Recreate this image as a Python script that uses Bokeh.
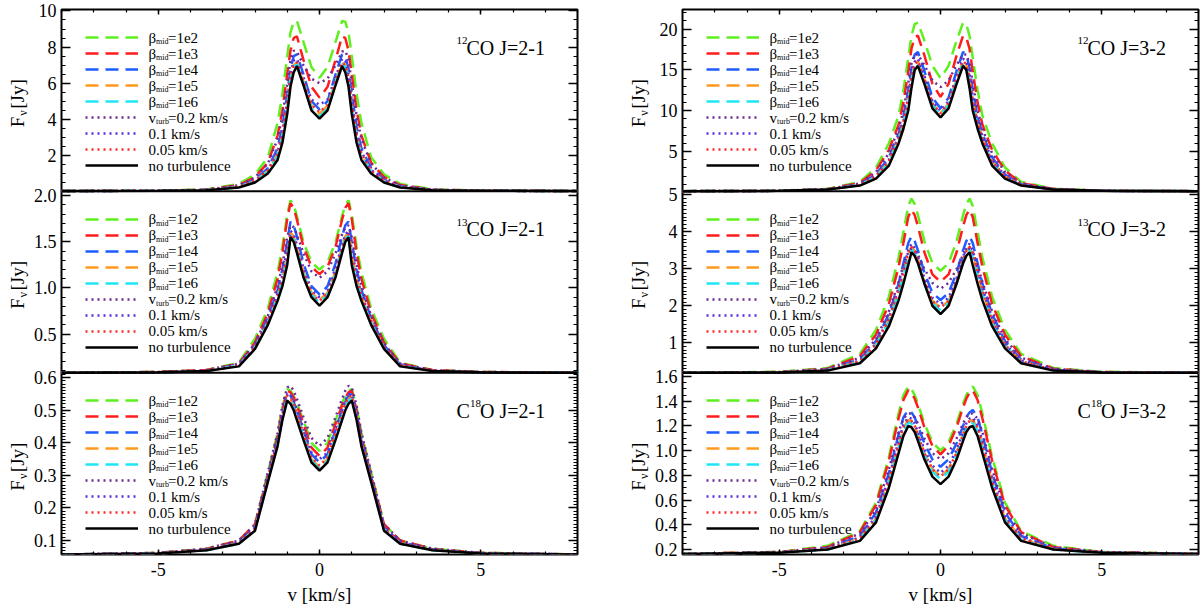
from math import ceil, floor

from bokeh.core.properties import value
from bokeh.embed import file_html
from bokeh.layouts import row
from bokeh.models import (FixedTicker, Label, Legend, LegendItem, LinearAxis,
                          Range1d, SingleIntervalTicker, Span)
from bokeh.plotting import figure
from bokeh.resources import INLINE

FONT = "'Liberation Serif', 'Times New Roman', Times, serif"

# velocity grid (km/s) shared by all profiles
V = [-8, -5, -3.5, -2.5, -2, -1.6, -1.3, -1.15, -1.0, -0.9, -0.8, -0.7, -0.5, -0.25, 0,
     0.25, 0.5, 0.7, 0.8, 0.9, 1.0, 1.15, 1.3, 1.6, 2, 2.5, 3.5, 5, 8]

# ---- 12CO J=2-1 (Jy)
co12_21_b1e2 = [0.03, 0.05, 0.12, 0.42, 0.95, 1.9, 3.8, 5.4, 7.5, 8.8, 9.4, 9.45, 8.3, 6.9, 6.3, 6.9, 8.3, 9.45, 9.4, 8.8, 7.5, 5.4, 3.8, 1.9, 0.95, 0.42, 0.12, 0.05, 0.03]
co12_21_b1e3 = [0.03, 0.05, 0.1, 0.36, 0.8, 1.6, 3.1, 4.5, 6.5, 7.8, 8.5, 8.6, 7.3, 5.8, 5.2, 5.8, 7.3, 8.6, 8.5, 7.8, 6.5, 4.5, 3.1, 1.6, 0.8, 0.36, 0.1, 0.05, 0.03]
co12_21_b1e4 = [0.03, 0.04, 0.09, 0.3, 0.65, 1.3, 2.4, 3.6, 5.4, 6.8, 7.5, 7.6, 6.5, 5.0, 4.55, 5.0, 6.5, 7.6, 7.5, 6.8, 5.4, 3.6, 2.4, 1.3, 0.65, 0.3, 0.09, 0.04, 0.03]
co12_21_b1e5 = [0.03, 0.04, 0.08, 0.26, 0.58, 1.15, 2.05, 3.1, 4.8, 6.3, 7.0, 7.15, 6.1, 4.75, 4.3, 4.75, 6.1, 7.15, 7.0, 6.3, 4.8, 3.1, 2.05, 1.15, 0.58, 0.26, 0.08, 0.04, 0.03]
co12_21_b1e6 = [0.03, 0.04, 0.08, 0.25, 0.55, 1.1, 1.95, 2.95, 4.6, 6.1, 6.9, 7.05, 6.0, 4.6, 4.15, 4.6, 6.0, 7.05, 6.9, 6.1, 4.6, 2.95, 1.95, 1.1, 0.55, 0.25, 0.08, 0.04, 0.03]
co12_21_vt02 = [0.03, 0.05, 0.1, 0.35, 0.78, 1.55, 2.9, 4.2, 6.0, 7.3, 7.8, 7.75, 7.0, 6.25, 6.0, 6.25, 7.0, 7.75, 7.8, 7.3, 6.0, 4.2, 2.9, 1.55, 0.78, 0.35, 0.1, 0.05, 0.03]
co12_21_vt01 = [0.03, 0.04, 0.09, 0.28, 0.62, 1.2, 2.2, 3.3, 5.0, 6.5, 7.25, 7.35, 6.35, 5.1, 4.8, 5.1, 6.35, 7.35, 7.25, 6.5, 5.0, 3.3, 2.2, 1.2, 0.62, 0.28, 0.09, 0.04, 0.03]
co12_21_vt005 = [0.03, 0.04, 0.08, 0.27, 0.6, 1.15, 2.1, 3.15, 4.85, 6.3, 7.0, 7.15, 6.15, 4.8, 4.4, 4.8, 6.15, 7.15, 7.0, 6.3, 4.85, 3.15, 2.1, 1.15, 0.6, 0.27, 0.08, 0.04, 0.03]
co12_21_none = [0.03, 0.04, 0.07, 0.22, 0.5, 1.0, 1.75, 2.7, 4.3, 5.8, 6.6, 6.95, 5.9, 4.5, 4.04, 4.5, 5.9, 6.95, 6.6, 5.8, 4.3, 2.7, 1.75, 1.0, 0.5, 0.22, 0.07, 0.04, 0.03]

# ---- 13CO J=2-1
co13_21_b1e2 = [0.08, 0.09, 0.11, 0.19, 0.45, 0.78, 1.17, 1.45, 1.8, 1.95, 1.9, 1.78, 1.5, 1.28, 1.2, 1.28, 1.5, 1.78, 1.9, 1.95, 1.8, 1.45, 1.17, 0.78, 0.45, 0.19, 0.11, 0.09, 0.08]
co13_21_b1e3 = [0.08, 0.09, 0.11, 0.18, 0.41, 0.73, 1.1, 1.38, 1.75, 1.92, 1.87, 1.74, 1.45, 1.23, 1.15, 1.23, 1.45, 1.74, 1.87, 1.92, 1.75, 1.38, 1.1, 0.73, 0.41, 0.18, 0.11, 0.09, 0.08]
co13_21_b1e4 = [0.08, 0.085, 0.1, 0.17, 0.38, 0.67, 0.98, 1.2, 1.5, 1.72, 1.68, 1.56, 1.27, 1.02, 0.93, 1.02, 1.27, 1.56, 1.68, 1.72, 1.5, 1.2, 0.98, 0.67, 0.38, 0.17, 0.1, 0.085, 0.08]
co13_21_b1e5 = [0.08, 0.085, 0.1, 0.16, 0.36, 0.63, 0.91, 1.1, 1.36, 1.6, 1.56, 1.44, 1.18, 0.95, 0.87, 0.95, 1.18, 1.44, 1.56, 1.6, 1.36, 1.1, 0.91, 0.63, 0.36, 0.16, 0.1, 0.085, 0.08]
co13_21_b1e6 = [0.08, 0.085, 0.1, 0.16, 0.35, 0.62, 0.89, 1.06, 1.3, 1.57, 1.53, 1.41, 1.15, 0.93, 0.84, 0.93, 1.15, 1.41, 1.53, 1.57, 1.3, 1.06, 0.89, 0.62, 0.35, 0.16, 0.1, 0.085, 0.08]
co13_21_vt02 = [0.08, 0.09, 0.11, 0.18, 0.4, 0.7, 1.02, 1.25, 1.55, 1.68, 1.66, 1.58, 1.38, 1.18, 1.11, 1.18, 1.38, 1.58, 1.66, 1.68, 1.55, 1.25, 1.02, 0.7, 0.4, 0.18, 0.11, 0.09, 0.08]
co13_21_vt01 = [0.08, 0.085, 0.1, 0.17, 0.37, 0.65, 0.94, 1.14, 1.42, 1.62, 1.58, 1.47, 1.22, 0.98, 0.9, 0.98, 1.22, 1.47, 1.58, 1.62, 1.42, 1.14, 0.94, 0.65, 0.37, 0.17, 0.1, 0.085, 0.08]
co13_21_vt005 = [0.08, 0.085, 0.1, 0.16, 0.36, 0.63, 0.9, 1.08, 1.34, 1.58, 1.54, 1.42, 1.17, 0.94, 0.86, 0.94, 1.17, 1.42, 1.54, 1.58, 1.34, 1.08, 0.9, 0.63, 0.36, 0.16, 0.1, 0.085, 0.08]
co13_21_none = [0.08, 0.085, 0.1, 0.15, 0.34, 0.6, 0.86, 1.02, 1.25, 1.55, 1.5, 1.38, 1.12, 0.9, 0.81, 0.9, 1.12, 1.38, 1.5, 1.55, 1.25, 1.02, 0.86, 0.6, 0.34, 0.15, 0.1, 0.085, 0.08]

# ---- C18O J=2-1
c18o_21_b1e2 = [0.057, 0.062, 0.075, 0.1, 0.15, 0.31, 0.43, 0.51, 0.565, 0.56, 0.545, 0.52, 0.47, 0.4, 0.375, 0.4, 0.47, 0.52, 0.545, 0.56, 0.565, 0.51, 0.43, 0.31, 0.15, 0.1, 0.075, 0.062, 0.057]
c18o_21_b1e3 = [0.057, 0.062, 0.074, 0.1, 0.15, 0.3, 0.42, 0.5, 0.56, 0.555, 0.54, 0.515, 0.46, 0.385, 0.36, 0.385, 0.46, 0.515, 0.54, 0.555, 0.56, 0.5, 0.42, 0.3, 0.15, 0.1, 0.074, 0.062, 0.057]
c18o_21_b1e4 = [0.057, 0.061, 0.072, 0.095, 0.14, 0.295, 0.41, 0.49, 0.55, 0.545, 0.525, 0.5, 0.44, 0.365, 0.34, 0.365, 0.44, 0.5, 0.525, 0.545, 0.55, 0.49, 0.41, 0.295, 0.14, 0.095, 0.072, 0.061, 0.057]
c18o_21_b1e5 = [0.057, 0.06, 0.071, 0.092, 0.135, 0.29, 0.4, 0.48, 0.54, 0.535, 0.515, 0.485, 0.425, 0.35, 0.325, 0.35, 0.425, 0.485, 0.515, 0.535, 0.54, 0.48, 0.4, 0.29, 0.135, 0.092, 0.071, 0.06, 0.057]
c18o_21_b1e6 = [0.057, 0.06, 0.07, 0.09, 0.133, 0.285, 0.395, 0.475, 0.535, 0.53, 0.51, 0.48, 0.42, 0.345, 0.32, 0.345, 0.42, 0.48, 0.51, 0.53, 0.535, 0.475, 0.395, 0.285, 0.133, 0.09, 0.07, 0.06, 0.057]
c18o_21_vt02 = [0.057, 0.062, 0.075, 0.1, 0.15, 0.31, 0.43, 0.515, 0.57, 0.575, 0.56, 0.535, 0.48, 0.415, 0.39, 0.415, 0.48, 0.535, 0.56, 0.575, 0.57, 0.515, 0.43, 0.31, 0.15, 0.1, 0.075, 0.062, 0.057]
c18o_21_vt01 = [0.057, 0.061, 0.072, 0.095, 0.14, 0.295, 0.41, 0.49, 0.55, 0.55, 0.53, 0.5, 0.445, 0.37, 0.35, 0.37, 0.445, 0.5, 0.53, 0.55, 0.55, 0.49, 0.41, 0.295, 0.14, 0.095, 0.072, 0.061, 0.057]
c18o_21_vt005 = [0.057, 0.06, 0.071, 0.092, 0.136, 0.29, 0.4, 0.48, 0.545, 0.54, 0.52, 0.49, 0.43, 0.355, 0.33, 0.355, 0.43, 0.49, 0.52, 0.54, 0.545, 0.48, 0.4, 0.29, 0.136, 0.092, 0.071, 0.06, 0.057]
c18o_21_none = [0.057, 0.06, 0.07, 0.09, 0.13, 0.28, 0.39, 0.47, 0.53, 0.52, 0.5, 0.47, 0.41, 0.34, 0.315, 0.34, 0.41, 0.47, 0.5, 0.52, 0.53, 0.47, 0.39, 0.28, 0.13, 0.09, 0.07, 0.06, 0.057]

# ---- 12CO J=3-2
co12_32_b1e2 = [0.16, 0.22, 0.45, 1.3, 3.05, 6.0, 9.4, 12.5, 16.5, 19.2, 20.6, 20.8, 18.6, 15.5, 14.0, 15.5, 18.6, 20.8, 20.6, 19.2, 16.5, 12.5, 9.4, 6.0, 3.05, 1.3, 0.45, 0.22, 0.16]
co12_32_b1e3 = [0.16, 0.21, 0.42, 1.15, 2.7, 5.2, 8.3, 11.0, 14.8, 17.6, 19.0, 19.2, 16.8, 13.3, 11.7, 13.3, 16.8, 19.2, 19.0, 17.6, 14.8, 11.0, 8.3, 5.2, 2.7, 1.15, 0.42, 0.21, 0.16]
co12_32_b1e4 = [0.16, 0.2, 0.38, 1.0, 2.2, 4.3, 7.2, 9.3, 12.5, 15.3, 16.9, 17.2, 14.9, 11.6, 10.3, 11.6, 14.9, 17.2, 16.9, 15.3, 12.5, 9.3, 7.2, 4.3, 2.2, 1.0, 0.38, 0.2, 0.16]
co12_32_b1e5 = [0.16, 0.2, 0.36, 0.92, 1.95, 3.8, 6.6, 8.5, 11.2, 14.0, 15.7, 16.1, 13.9, 10.9, 9.7, 10.9, 13.9, 16.1, 15.7, 14.0, 11.2, 8.5, 6.6, 3.8, 1.95, 0.92, 0.36, 0.2, 0.16]
co12_32_b1e6 = [0.16, 0.2, 0.36, 0.9, 1.85, 3.6, 6.4, 8.2, 10.8, 13.6, 15.4, 15.8, 13.7, 10.7, 9.5, 10.7, 13.7, 15.8, 15.4, 13.6, 10.8, 8.2, 6.4, 3.6, 1.85, 0.9, 0.36, 0.2, 0.16]
co12_32_vt02 = [0.16, 0.21, 0.42, 1.1, 2.5, 4.8, 7.8, 10.0, 13.4, 15.8, 16.9, 16.9, 15.6, 13.7, 12.9, 13.7, 15.6, 16.9, 16.9, 15.8, 13.4, 10.0, 7.8, 4.8, 2.5, 1.1, 0.42, 0.21, 0.16]
co12_32_vt01 = [0.16, 0.2, 0.38, 0.95, 2.05, 4.0, 6.9, 8.8, 11.7, 14.5, 16.0, 16.4, 14.3, 11.2, 10.0, 11.2, 14.3, 16.4, 16.0, 14.5, 11.7, 8.8, 6.9, 4.0, 2.05, 0.95, 0.38, 0.2, 0.16]
co12_32_vt005 = [0.16, 0.2, 0.37, 0.93, 1.95, 3.8, 6.6, 8.5, 11.3, 14.1, 15.7, 16.1, 13.9, 10.9, 9.7, 10.9, 13.9, 16.1, 15.7, 14.1, 11.3, 8.5, 6.6, 3.8, 1.95, 0.93, 0.37, 0.2, 0.16]
co12_32_none = [0.16, 0.2, 0.35, 0.85, 1.7, 3.3, 6.0, 7.8, 10.0, 12.8, 15.0, 15.5, 13.3, 10.3, 9.2, 10.3, 13.3, 15.5, 15.0, 12.8, 10.0, 7.8, 6.0, 3.3, 1.7, 0.85, 0.35, 0.2, 0.16]

# ---- 13CO J=3-2
co13_32_b1e2 = [0.19, 0.22, 0.32, 0.7, 1.35, 2.25, 3.3, 4.0, 4.7, 4.9, 4.75, 4.45, 3.75, 3.15, 2.95, 3.15, 3.75, 4.45, 4.75, 4.9, 4.7, 4.0, 3.3, 2.25, 1.35, 0.7, 0.32, 0.22, 0.19]
co13_32_b1e3 = [0.19, 0.21, 0.3, 0.64, 1.22, 2.05, 3.05, 3.7, 4.4, 4.6, 4.45, 4.15, 3.45, 2.85, 2.65, 2.85, 3.45, 4.15, 4.45, 4.6, 4.4, 3.7, 3.05, 2.05, 1.22, 0.64, 0.3, 0.21, 0.19]
co13_32_b1e4 = [0.19, 0.2, 0.28, 0.55, 1.05, 1.78, 2.6, 3.15, 3.7, 3.88, 3.75, 3.5, 2.9, 2.35, 2.16, 2.35, 2.9, 3.5, 3.75, 3.88, 3.7, 3.15, 2.6, 1.78, 1.05, 0.55, 0.28, 0.2, 0.19]
co13_32_b1e5 = [0.19, 0.2, 0.27, 0.5, 0.95, 1.62, 2.4, 2.9, 3.4, 3.6, 3.48, 3.25, 2.65, 2.13, 1.95, 2.13, 2.65, 3.25, 3.48, 3.6, 3.4, 2.9, 2.4, 1.62, 0.95, 0.5, 0.27, 0.2, 0.19]
co13_32_b1e6 = [0.19, 0.2, 0.26, 0.48, 0.92, 1.56, 2.32, 2.8, 3.3, 3.52, 3.42, 3.2, 2.6, 2.07, 1.88, 2.07, 2.6, 3.2, 3.42, 3.52, 3.3, 2.8, 2.32, 1.56, 0.92, 0.48, 0.26, 0.2, 0.19]
co13_32_vt02 = [0.19, 0.21, 0.3, 0.6, 1.1, 1.85, 2.65, 3.1, 3.45, 3.55, 3.5, 3.38, 3.0, 2.62, 2.46, 2.62, 3.0, 3.38, 3.5, 3.55, 3.45, 3.1, 2.65, 1.85, 1.1, 0.6, 0.3, 0.21, 0.19]
co13_32_vt01 = [0.19, 0.2, 0.27, 0.52, 0.98, 1.68, 2.48, 3.0, 3.5, 3.68, 3.56, 3.33, 2.75, 2.22, 2.05, 2.22, 2.75, 3.33, 3.56, 3.68, 3.5, 3.0, 2.48, 1.68, 0.98, 0.52, 0.27, 0.2, 0.19]
co13_32_vt005 = [0.19, 0.2, 0.27, 0.5, 0.95, 1.63, 2.42, 2.92, 3.42, 3.6, 3.48, 3.25, 2.66, 2.13, 1.95, 2.13, 2.66, 3.25, 3.48, 3.6, 3.42, 2.92, 2.42, 1.63, 0.95, 0.5, 0.27, 0.2, 0.19]
co13_32_none = [0.19, 0.2, 0.25, 0.45, 0.85, 1.45, 2.15, 2.6, 3.1, 3.45, 3.35, 3.15, 2.6, 2.0, 1.78, 2.0, 2.6, 3.15, 3.35, 3.45, 3.1, 2.6, 2.15, 1.45, 0.85, 0.45, 0.25, 0.2, 0.19]

# ---- C18O J=3-2
c18o_32_b1e2 = [0.165, 0.18, 0.23, 0.35, 0.58, 0.95, 1.3, 1.45, 1.52, 1.5, 1.45, 1.38, 1.22, 1.07, 1.0, 1.07, 1.22, 1.38, 1.45, 1.5, 1.52, 1.45, 1.3, 0.95, 0.58, 0.35, 0.23, 0.18, 0.165]
c18o_32_b1e3 = [0.165, 0.18, 0.22, 0.34, 0.56, 0.92, 1.26, 1.41, 1.49, 1.47, 1.42, 1.35, 1.19, 1.04, 0.97, 1.04, 1.19, 1.35, 1.42, 1.47, 1.49, 1.41, 1.26, 0.92, 0.56, 0.34, 0.22, 0.18, 0.165]
c18o_32_b1e4 = [0.165, 0.175, 0.21, 0.31, 0.5, 0.82, 1.13, 1.27, 1.33, 1.31, 1.27, 1.2, 1.06, 0.93, 0.87, 0.93, 1.06, 1.2, 1.27, 1.31, 1.33, 1.27, 1.13, 0.82, 0.5, 0.31, 0.21, 0.175, 0.165]
c18o_32_b1e5 = [0.165, 0.175, 0.205, 0.29, 0.45, 0.75, 1.04, 1.18, 1.25, 1.24, 1.2, 1.13, 0.98, 0.85, 0.79, 0.85, 0.98, 1.13, 1.2, 1.24, 1.25, 1.18, 1.04, 0.75, 0.45, 0.29, 0.205, 0.175, 0.165]
c18o_32_b1e6 = [0.165, 0.175, 0.2, 0.28, 0.44, 0.73, 1.02, 1.16, 1.23, 1.22, 1.18, 1.11, 0.96, 0.83, 0.77, 0.83, 0.96, 1.11, 1.18, 1.22, 1.23, 1.16, 1.02, 0.73, 0.44, 0.28, 0.2, 0.175, 0.165]
c18o_32_vt02 = [0.165, 0.18, 0.22, 0.33, 0.52, 0.85, 1.15, 1.26, 1.3, 1.3, 1.27, 1.22, 1.1, 0.98, 0.93, 0.98, 1.1, 1.22, 1.27, 1.3, 1.3, 1.26, 1.15, 0.85, 0.52, 0.33, 0.22, 0.18, 0.165]
c18o_32_vt01 = [0.165, 0.175, 0.205, 0.3, 0.47, 0.78, 1.08, 1.21, 1.27, 1.26, 1.22, 1.15, 1.01, 0.88, 0.82, 0.88, 1.01, 1.15, 1.22, 1.26, 1.27, 1.21, 1.08, 0.78, 0.47, 0.3, 0.205, 0.175, 0.165]
c18o_32_vt005 = [0.165, 0.175, 0.205, 0.29, 0.45, 0.75, 1.05, 1.19, 1.25, 1.24, 1.2, 1.13, 0.98, 0.85, 0.79, 0.85, 0.98, 1.13, 1.2, 1.24, 1.25, 1.19, 1.05, 0.75, 0.45, 0.29, 0.205, 0.175, 0.165]
c18o_32_none = [0.165, 0.175, 0.2, 0.27, 0.42, 0.7, 0.98, 1.12, 1.2, 1.19, 1.15, 1.08, 0.93, 0.79, 0.73, 0.79, 0.93, 1.08, 1.15, 1.19, 1.2, 1.12, 0.98, 0.7, 0.42, 0.27, 0.2, 0.175, 0.165]

# series styling (same order as the legend)
COLORS = ["#5ef01e", "#ff1c1c", "#1e5cff", "#ff9a1e", "#1ee6f5",
          "#6c2a96", "#5a2ee2", "#ff2a2a", "#000000"]
DASHES = ["13 7"] * 5 + ["2 4"] * 3 + ["solid"]
LEGEND = [("β", "mid", "=1e2"), ("β", "mid", "=1e3"), ("β", "mid", "=1e4"),
          ("β", "mid", "=1e5"), ("β", "mid", "=1e6"), ("v", "turb", "=0.2 km/s"),
          ("0.1 km/s", None, None), ("0.05 km/s", None, None), ("no turbulence", None, None)]

# panels, top to bottom: (title pieces, y range, major step, minor step, label format, curves)
LEFT = [
    (("", "12", "CO J=2-1"), (0.02, 10.08), 2, 0.5, "%d",
     [co12_21_b1e2, co12_21_b1e3, co12_21_b1e4, co12_21_b1e5, co12_21_b1e6,
      co12_21_vt02, co12_21_vt01, co12_21_vt005, co12_21_none]),
    (("", "13", "CO J=2-1"), (0.08, 2.05), 0.5, 0.1, "%.1f",
     [co13_21_b1e2, co13_21_b1e3, co13_21_b1e4, co13_21_b1e5, co13_21_b1e6,
      co13_21_vt02, co13_21_vt01, co13_21_vt005, co13_21_none]),
    (("C", "18", "O J=2-1"), (0.057, 0.615), 0.1, 0.01, "%.1f",
     [c18o_21_b1e2, c18o_21_b1e3, c18o_21_b1e4, c18o_21_b1e5, c18o_21_b1e6,
      c18o_21_vt02, c18o_21_vt01, c18o_21_vt005, c18o_21_none]),
]
RIGHT = [
    (("", "12", "CO J=3-2"), (0.16, 22.4), 5, 1, "%d",
     [co12_32_b1e2, co12_32_b1e3, co12_32_b1e4, co12_32_b1e5, co12_32_b1e6,
      co12_32_vt02, co12_32_vt01, co12_32_vt005, co12_32_none]),
    (("", "13", "CO J=3-2"), (0.19, 5.1), 1, 0.1, "%d",
     [co13_32_b1e2, co13_32_b1e3, co13_32_b1e4, co13_32_b1e5, co13_32_b1e6,
      co13_32_vt02, co13_32_vt01, co13_32_vt005, co13_32_none]),
    (("C", "18", "O J=3-2"), (0.16, 1.63), 0.2, 0.05, "%.1f",
     [c18o_32_b1e2, c18o_32_b1e3, c18o_32_b1e4, c18o_32_b1e5, c18o_32_b1e6,
      c18o_32_vt02, c18o_32_vt01, c18o_32_vt005, c18o_32_none]),
]

FW, FH = 516, 545
PH = FH / 3.0
TOP, BOTTOM = 9, 55
STRIP = 30


def steps(lo, hi, step):
    n0 = int(ceil(lo / step - 1e-9))
    n1 = int(floor(hi / step + 1e-9))
    return [round(n * step, 6) for n in range(n0, n1 + 1)]


def text(p, x, y, s, size, align="left", baseline="middle", angle=0):
    p.add_layout(Label(x=x, y=y, x_units="screen", y_units="screen", text=s,
                       text_font=FONT, text_font_size="%gpx" % size, text_color="black",
                       text_align=align, text_baseline=baseline,
                       angle=angle, angle_units="deg"))


def style_axis(ax, tick_in, minor_in, labels=True):
    ax.axis_line_color = None
    ax.major_tick_in = tick_in
    ax.major_tick_out = 0
    ax.minor_tick_in = minor_in
    ax.minor_tick_out = 0
    ax.major_tick_line_width = 1.5
    ax.minor_tick_line_width = 1.2
    ax.major_tick_line_color = "black"
    ax.minor_tick_line_color = "black"
    if labels:
        ax.major_label_text_font = FONT
        ax.major_label_text_font_size = "18px"
        ax.major_label_text_color = "black"
    else:
        # mirrored axis: ticks only, no labels drawn and no space taken
        ax.major_label_text_font_size = "0px"
        ax.major_label_text_color = None
        ax.major_label_standoff = 0


def make_ylabel_strip():
    # narrow strip holding the rotated "F_nu [Jy]" label of each panel
    s = figure(frame_width=STRIP, frame_height=FH, x_range=Range1d(0, 1), y_range=Range1d(0, 1),
               output_backend="svg", toolbar_location=None,
               x_axis_location=None, y_axis_location=None,
               min_border_left=0, min_border_right=0,
               min_border_top=TOP, min_border_bottom=BOTTOM)
    s.grid.visible = False
    s.outline_line_color = None
    for j in range(3):
        yc = FH - (j * PH + PH / 2)
        text(s, 17, yc - 27, "F", 19, angle=90)
        text(s, 22, yc - 15.4, "ν", 12, angle=90)
        text(s, 17, yc - 8.5, "[Jy]", 19, angle=90)
    return s


def make_column(panels, border_left, border_right):
    p = figure(frame_width=FW, frame_height=FH, x_range=Range1d(-8, 8), y_range=Range1d(0, 3),
               output_backend="svg", toolbar_location=None,
               x_axis_location=None, y_axis_location=None,
               min_border_left=border_left, min_border_right=border_right,
               min_border_top=TOP, min_border_bottom=BOTTOM)
    p.grid.visible = False
    p.outline_line_color = "black"
    p.outline_line_width = 2
    p.background_fill_color = "white"
    p.border_fill_color = "white"

    # x axes (bottom labelled, top mirrored)
    xt = SingleIntervalTicker(interval=5, num_minor_ticks=5)
    xb = LinearAxis(ticker=xt, major_label_overrides={-5: "-5", 0: "0", 5: "5"},
                    axis_label="v [km/s]")
    style_axis(xb, 5, 3)
    xb.major_label_standoff = 8
    xb.axis_label_standoff = 5
    xb.axis_label_text_font = FONT
    xb.axis_label_text_font_size = "19px"
    xb.axis_label_text_font_style = "normal"
    xb.axis_label_text_color = "black"
    p.add_layout(xb, "below")
    xa = LinearAxis(ticker=xt)
    style_axis(xa, 5, 3, labels=False)
    p.add_layout(xa, "above")

    # panel y ranges stacked in one frame; one tick list for the left/right axes
    major, minor, overrides, ranges = [], [], {}, {}
    for j, (title, (lo, hi), mstep, nstep, fmt, curves) in enumerate(panels):
        k = 2 - j
        span = hi - lo
        ranges["p%d" % j] = Range1d(lo - k * span, hi + (2 - k) * span)
        for v in steps(lo, hi, mstep):
            pos = k + (v - lo) / span
            major.append(pos)
            overrides[pos] = fmt % v
        for v in steps(lo, hi, nstep):
            minor.append(k + (v - lo) / span)
    p.extra_y_ranges = ranges

    yt = FixedTicker(ticks=major, minor_ticks=minor)
    yl = LinearAxis(ticker=yt, major_label_overrides=overrides)
    style_axis(yl, 9, 4)
    yl.major_label_standoff = 5
    p.add_layout(yl, "left")
    yr = LinearAxis(ticker=yt)
    style_axis(yr, 9, 4, labels=False)
    p.add_layout(yr, "right")

    for b in (1.0, 2.0):
        p.add_layout(Span(location=b, dimension="width", line_color="black", line_width=2))

    for j, (title, (lo, hi), mstep, nstep, fmt, curves) in enumerate(panels):
        top = j * PH
        rends = []
        for ys, c, d in zip(curves, COLORS, DASHES):
            rends.append(p.line(V, ys, y_range_name="p%d" % j, line_color=c,
                                line_width=2.5, line_dash=d))
        leg = Legend(items=[LegendItem(label=value(" "), renderers=[r]) for r in rends],
                     location=(24, int(round(FH - (top + 20 + 9 * 16)))),
                     glyph_width=53, glyph_height=16, label_height=16, label_width=1,
                     spacing=0, padding=0, margin=0, label_standoff=0,
                     label_text_font_size="4px", background_fill_alpha=0,
                     border_line_color=None)
        p.add_layout(leg)

        # legend texts with subscripts
        for i, (main, sub, rest) in enumerate(LEGEND):
            yc = FH - (top + 28 + 16 * i)
            text(p, 87, yc, main, 15)
            if sub:
                text(p, 94.5, yc - 4, sub, 8)
                text(p, 106.5, yc, rest, 15)

        # panel title with superscript
        pre, sup, post = title
        x0 = 395
        if pre:
            text(p, x0, FH - (top + 38), pre, 20)
            x0 += 13.5
        text(p, x0, FH - (top + 31), sup, 11)
        text(p, x0 + 10, FH - (top + 38), post, 20)

    return p


left = make_column(LEFT, 60 - STRIP, 44)
right = make_column(RIGHT, 60 - STRIP, 4)
layout = row(make_ylabel_strip(), left, make_ylabel_strip(), right)

open("out.html", "w").write(file_html(layout, INLINE))
